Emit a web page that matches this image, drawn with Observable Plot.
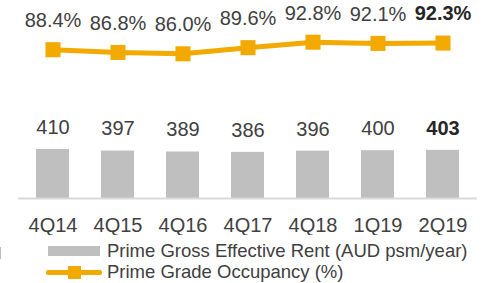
<!DOCTYPE html>
<html>
<head>
<meta charset="utf-8">
<script src="https://cdn.jsdelivr.net/npm/d3@7"></script>
<script src="https://cdn.jsdelivr.net/npm/@observablehq/plot@0.6"></script>
<style>
  html, body { margin: 0; padding: 0; background: #fff; }
  body { width: 490px; height: 283px; overflow: hidden; font-family: "Liberation Sans", Arial, sans-serif; color: #404040; position: relative; }
  svg { display: block; }
  .legend { position: relative; height: 48px; font-size: 18.5px; color: #404040; }
  .row { position: absolute; left: 0; display: flex; align-items: center; height: 20px; }
  .sw-bar { position: absolute; left: 48px; width: 52px; height: 10px; background: #BFBFBF; }
  .sw-line { position: absolute; left: 46px; width: 56px; height: 5px; background: #F2A900; border-radius: 2px; }
  .sw-mark { position: absolute; left: 68px; width: 13px; height: 13px; background: #F2A900; }
  .lab { position: absolute; left: 107px; white-space: nowrap; }
  .edge { position: absolute; left: 0; top: 247px; width: 1px; height: 12px; background: #BDBDBD; }
</style>
</head>
<body>
<div id="chart"></div>
<div class="edge"></div>
<script>
const periods = ["4Q14", "4Q15", "4Q16", "4Q17", "4Q18", "1Q19", "2Q19"];
const rent = [410, 397, 389, 386, 396, 400, 403];
const occupancy = [88.4, 86.8, 86.0, 89.6, 92.8, 92.1, 92.3];
const legendLabels = ["Prime Gross Effective Rent (AUD psm/year)", "Prime Grade Occupancy (%)"];

const data = periods.map((p, i) => ({period: p, rent: rent[i], occ: occupancy[i], last: i === periods.length - 1}));
const gray = "#BFBFBF", orange = "#F2A900", ink = "#404040";
const font = "'Liberation Sans', Arial, sans-serif";
const xScale = {type: "band", domain: periods, paddingInner: 0.5, paddingOuter: 0.25};

const topChart = Plot.plot({
  width: 490, height: 110,
  marginLeft: 18, marginRight: 13, marginTop: 0, marginBottom: 0,
  style: {fontFamily: font, background: "transparent"},
  x: {...xScale, axis: null},
  y: {domain: [86, 92.8], range: [53.3, 41.7], axis: null},
  marks: [
    Plot.line(data, {x: "period", y: "occ", stroke: orange, strokeWidth: 5}),
    Plot.dot(data, {x: "period", y: "occ", symbol: "square", r: 8.5, fill: orange, stroke: "none"}),
    Plot.text(data.filter(d => !d.last), {x: "period", y: "occ", text: d => d.occ.toFixed(1) + "%", dy: -29, fontSize: 20, fill: ink}),
    Plot.text(data.filter(d => d.last), {x: "period", y: "occ", text: d => d.occ.toFixed(1) + "%", dy: -29, fontSize: 20, fill: "#262626", fontWeight: "bold"})
  ]
});

const bottomChart = Plot.plot({
  width: 490, height: 125,
  marginLeft: 18, marginRight: 13, marginTop: 0, marginBottom: 37,
  style: {fontFamily: font, fontSize: "20px", color: ink, background: "transparent"},
  x: xScale,
  y: {domain: [0, 410], range: [88, 39], axis: null},
  marks: [
    Plot.barY(data, {x: "period", y: "rent", fill: gray}),
    Plot.ruleY([0], {stroke: "#D9D9D9", strokeWidth: 2}),
    Plot.text(data.filter(d => !d.last), {x: "period", y: "rent", text: d => String(d.rent), dy: -22, fontSize: 20, fill: ink}),
    Plot.text(data.filter(d => d.last), {x: "period", y: "rent", text: d => String(d.rent), dy: -22, fontSize: 20, fill: "#262626", fontWeight: "bold"}),
    Plot.axisX({tickSize: 0, tickPadding: 19, fontSize: 20, fill: ink, label: null})
  ]
});

const chart = document.getElementById("chart");
chart.appendChild(topChart);
chart.appendChild(bottomChart);

const legend = document.createElement("div");
legend.className = "legend";
legend.innerHTML = `
  <div class="row" style="top:6px;width:490px"><div class="sw-bar"></div><div class="lab">${legendLabels[0]}</div></div>
  <div class="row" style="top:27px;width:490px"><div class="sw-line"></div><div class="sw-mark"></div><div class="lab">${legendLabels[1]}</div></div>`;
chart.appendChild(legend);
</script>
</body>
</html>
